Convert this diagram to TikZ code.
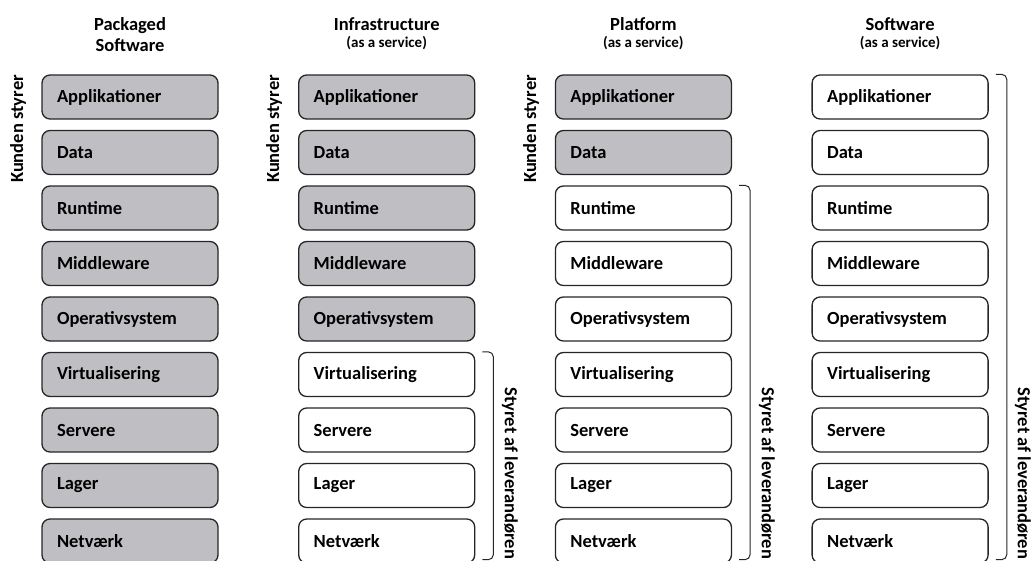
\documentclass[tikz,border=0pt]{standalone}
\usepackage{fontspec}
\setmainfont{Carlito}
\usepackage{tikz}
\usetikzlibrary{calc}
\definecolor{layergrey}{RGB}{191,191,195}
\definecolor{linegrey}{RGB}{38,38,38}

\begin{document}
\begin{tikzpicture}[x=1pt, y=-1pt,
    layer/.style={draw=linegrey, line width=1.3pt, rounded corners=8pt, text width=146pt, inner xsep=15pt, inner ysep=0pt, minimum height=44pt, align=left, font=\fontsize{18.5}{22}\selectfont\bfseries},
    title/.style={font=\fontsize{18.5}{22}\selectfont\bfseries, anchor=base},
    subtitle/.style={font=\fontsize{15}{18}\selectfont\bfseries, anchor=base},
    side/.style={font=\fontsize{18.5}{22}\selectfont\bfseries},
    brace/.style={draw=linegrey, line width=1pt, rounded corners=5pt}]
        \useasboundingbox (0,0) rectangle (1032,560);
        % the four stacks
        \foreach \col/\ngrey [count=\c from 0] in {packaged/9, infra/5, platform/2, software/0} {
            \foreach \lbl [count=\r] in {Applikationer, Data, Runtime, Middleware, Operativsystem, Virtualisering, Servere, Lager, Netværk} {
                \ifnum\r>\ngrey \colorlet{layerfill}{white}\else\colorlet{layerfill}{layergrey}\fi
                \node[layer, fill=layerfill] (\col-\r) at ({130+256.7*\c}, {97+55.5*(\r-1)}) {\lbl};
            }
        }
        % headings
        \node[title] (packaged-title) at (130,30) {Packaged};
        \node[title] (packaged-sub) at (130,51) {Software};
        \node[title] (infra-title) at (386.7,30) {Infrastructure};
        \node[subtitle] (infra-sub) at (386.7,47) {(as a service)};
        \node[title] (platform-title) at (643.4,30) {Platform};
        \node[subtitle] (platform-sub) at (643.4,47) {(as a service)};
        \node[title] (software-title) at (900.1,30) {Software};
        \node[subtitle] (software-sub) at (900.1,47) {(as a service)};
        % customer side
        \node[side, rotate=90] (packaged-kunde) at (18,129) {Kunden styrer};
        \node[side, rotate=90] (infra-kunde) at (274,129) {Kunden styrer};
        \node[side, rotate=90] (platform-kunde) at (531,129) {Kunden styrer};
        % provider side
        \draw[brace] ($(infra-6.north east)+(7,0)$) -- ++(11,0) |- ($(infra-9.south east)+(7,-4)$);
        \draw[brace] ($(platform-3.north east)+(7,0)$) -- ++(11,0) |- ($(platform-9.south east)+(7,-4)$);
        \draw[brace] ($(software-1.north east)+(7,0)$) -- ++(11,0) |- ($(software-9.south east)+(7,-4)$);
        \node[side, rotate=-90, anchor=west] (infra-lev) at (510,384) {Styret af leverandøren};
        \node[side, rotate=-90, anchor=west] (platform-lev) at (767,384) {Styret af leverandøren};
        \node[side, rotate=-90, anchor=west] (software-lev) at (1023,384) {Styret af leverandøren};
    \end{tikzpicture}
\end{document}
